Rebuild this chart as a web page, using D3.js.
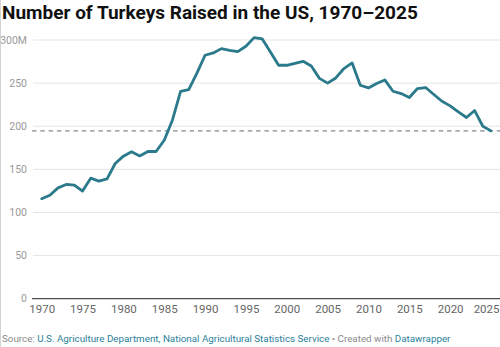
<!DOCTYPE html>
<html>
<head>
<meta charset="utf-8">
<script src="https://cdn.jsdelivr.net/npm/d3@7"></script>
<style>
  html, body { margin: 0; padding: 0; background: #fff; }
  svg { display: block; font-family: Roboto, "Noto Sans", sans-serif; }
</style>
</head>
<body>
<svg id="chart"></svg>
<script>
// turkeys raised per year, millions
const years = d3.range(1970, 2026);
const turkeys = [
  116, 120, 128.5, 132.5, 131.7, 124.8, 139.8, 136.3, 139, 156.8,
  165.3, 170.3, 165.6, 170.7, 170.7, 183.8, 207, 240.5, 242.5, 261.5,
  282.3, 285, 290, 288, 286.5, 292.7, 302.8, 301.2, 286, 270.7,
  270.7, 273, 275.3, 269.9, 255.5, 250, 256, 266.9, 273.4, 247.5,
  244.4, 249.5, 253.7, 240.6, 237.9, 233.3, 243.7, 244.9, 236.8, 229,
  223.6, 216.6, 210.1, 218.2, 200, 194.6
];
const yTicks = [0, 50, 100, 150, 200, 250, 300];
const xTicks = d3.range(1970, 2026, 5);

const data = years.map((y, i) => ({ year: y, value: turkeys[i] }));
const latest = turkeys[turkeys.length - 1];

const width = 500, height = 347;
const svg = d3.select("#chart").attr("width", width).attr("height", height);

const x = d3.scaleLinear().domain([1970, 2025]).range([41.7, 491]);
const y = d3.scaleLinear().domain([0, 300]).range([298.7, 40]);

// frame edge on the left
svg.append("line")
  .attr("x1", 0.5).attr("x2", 0.5).attr("y1", 0).attr("y2", height)
  .attr("stroke", "#d4d4d4");

svg.append("text")
  .attr("x", 2).attr("y", 19)
  .attr("font-size", 19).attr("font-weight", 700)
  .attr("fill", "#111")
  .text("Number of Turkeys Raised in the US, 1970\u20132025");

// gridlines + y labels
const grid = svg.append("g");
grid.selectAll("line")
  .data(yTicks.filter(d => d > 0))
  .join("line")
  .attr("x1", 33).attr("x2", width)
  .attr("y1", d => y(d)).attr("y2", d => y(d))
  .attr("stroke", "#e5e5e5");

grid.selectAll("text")
  .data(yTicks)
  .join("text")
  .attr("x", 27).attr("y", d => y(d))
  .attr("dy", "0.35em")
  .attr("text-anchor", "end")
  .attr("font-size", 10.5)
  .attr("fill", "#9a9a9a")
  .text(d => d === 300 ? "300M" : d);

// baseline
svg.append("line")
  .attr("x1", 32).attr("x2", width)
  .attr("y1", y(0)).attr("y2", y(0))
  .attr("stroke", "#222").attr("stroke-width", 1);

// x axis labels
const xAxis = d3.axisBottom(x).tickValues(xTicks).tickFormat(d3.format("d")).tickSize(0).tickPadding(6);
svg.append("g")
  .attr("transform", `translate(0,${y(0)})`)
  .call(xAxis)
  .call(g => g.select(".domain").remove())
  .call(g => g.selectAll("text")
    .attr("font-size", 11.5)
    .attr("font-family", "Roboto, sans-serif")
    .attr("fill", "#666"))
  // keep the last year inside the frame
  .call(g => g.selectAll(".tick").filter(d => d === 2025).select("text")
    .attr("text-anchor", "end").attr("x", 8));

// dashed reference at latest value
svg.append("line")
  .attr("x1", 32).attr("x2", width)
  .attr("y1", y(latest)).attr("y2", y(latest))
  .attr("stroke", "#7b8a8e").attr("stroke-width", 1.3)
  .attr("stroke-dasharray", "4.5,3.8");

const line = d3.line()
  .x(d => x(d.year))
  .y(d => y(d.value));

svg.append("path")
  .datum(data)
  .attr("fill", "none")
  .attr("stroke", "#2a7a8c")
  .attr("stroke-width", 2.8)
  .attr("stroke-linejoin", "round")
  .attr("stroke-linecap", "round")
  .attr("d", line);

// source note
const note = svg.append("text")
  .attr("x", 2).attr("y", 342)
  .attr("font-size", 9.8)
  .attr("fill", "#8a8a8a");
note.append("tspan").text("Source: ");
note.append("tspan").attr("fill", "#2b7f9a")
  .text("U.S. Agriculture Department, National Agricultural Statistics Service");
note.append("tspan").text(" \u2022 Created with ");
note.append("tspan").attr("fill", "#2b7f9a").text("Datawrapper");
</script>
</body>
</html>
